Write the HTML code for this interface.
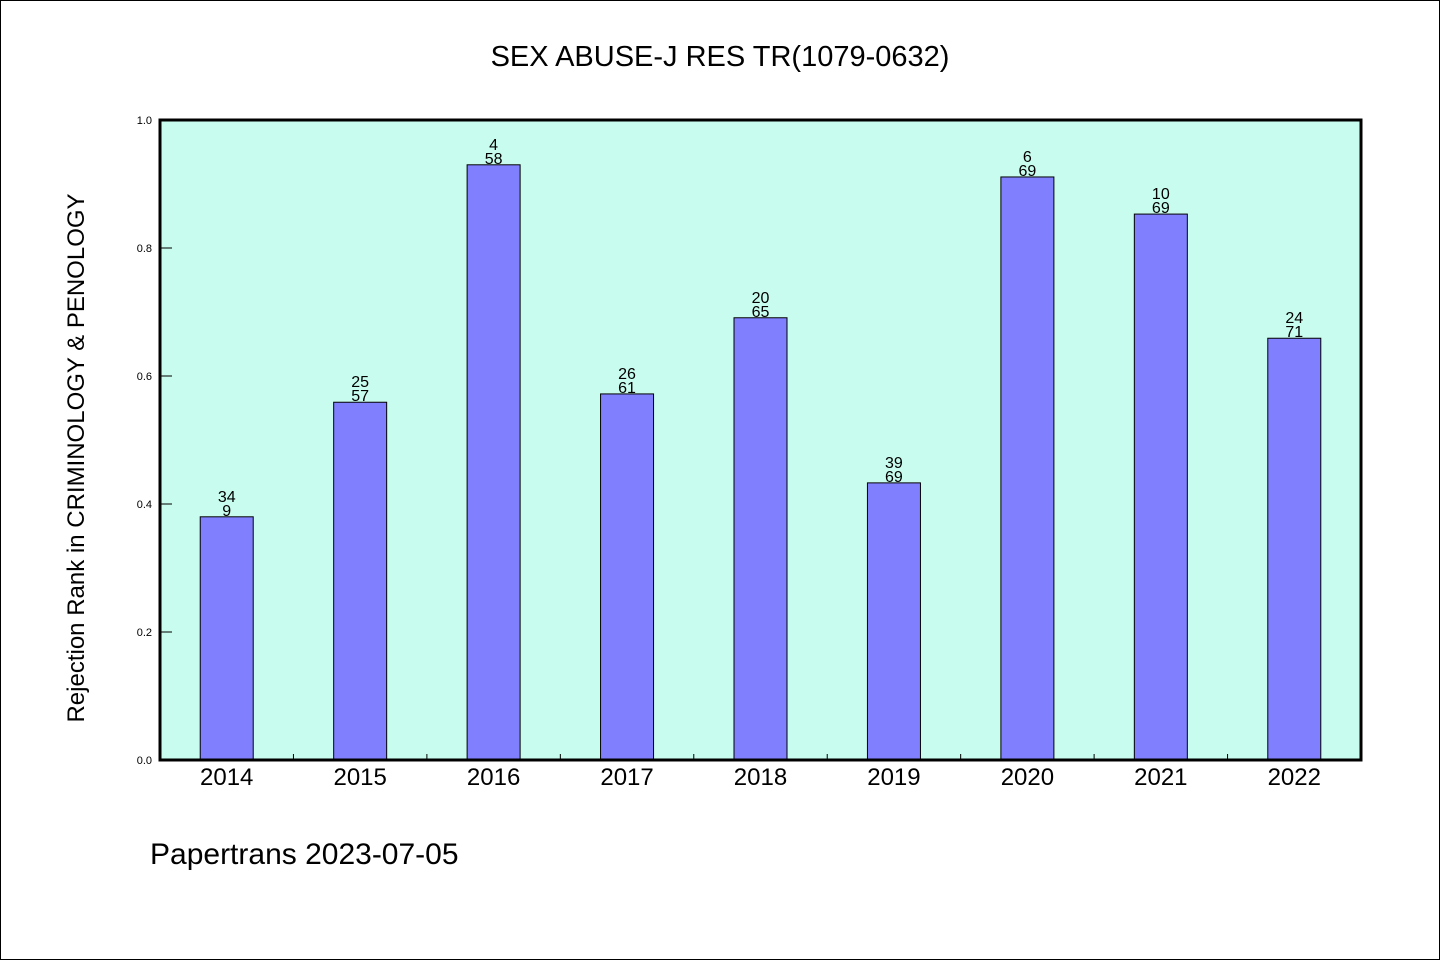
<!DOCTYPE html>
<html><head><meta charset="utf-8"><style>
html,body{margin:0;padding:0;background:#fff;}
svg{display:block;font-family:"WenQuanYi Zen Hei","Liberation Sans",sans-serif;}
</style></head><body>
<svg id="chart" width="1440" height="960" viewBox="0 0 1440 960" xmlns="http://www.w3.org/2000/svg">
<rect x="0.5" y="0.5" width="1439" height="959" fill="#fff" stroke="#000" stroke-width="1"/>
<text x="720" y="66" text-anchor="middle" font-size="29" fill="#000">SEX ABUSE-J RES TR(1079-0632)</text>
<rect x="160" y="120" width="1201" height="640" fill="#c8fcee"/>
<g id="bars"></g>
<g id="axes"></g>
<rect x="160" y="120" width="1201" height="640" fill="none" stroke="#000" stroke-width="3"/>
<text transform="translate(84,458) rotate(-90)" text-anchor="middle" font-size="24" fill="#000">Rejection Rank in CRIMINOLOGY &amp; PENOLOGY</text>
<text x="150" y="864" font-size="30" fill="#000">Papertrans 2023-07-05</text>
</svg>
<script>
const categories=["2014","2015","2016","2017","2018","2019","2020","2021","2022"];
const values=[0.380,0.559,0.930,0.572,0.691,0.433,0.911,0.853,0.659];
const topLabels=["34","25","4","26","20","39","6","10","24"];
const bottomLabels=["9","57","58","61","65","69","69","69","71"];
const yTicks=[0,0.2,0.4,0.6,0.8,1.0];
const X0=160,X1=1361,Y0=760,Y1=120;
const NS="http://www.w3.org/2000/svg";
const step=(X1-X0)/categories.length;
const xc=i=>X0+step*(i+0.5);
const ys=v=>Y0-(v-0)/(1-0)*(Y0-Y1);
function mk(t,a,p){const e=document.createElementNS(NS,t);for(const k in a)e.setAttribute(k,a[k]);p.appendChild(e);return e;}
const gb=document.getElementById('bars'),ga=document.getElementById('axes');
categories.forEach((c,i)=>{
  const w=53,y=ys(values[i]);
  const r=mk('rect',{x:xc(i)-w/2,y:y,width:w,height:Y0-y,fill:'#8080ff',stroke:'#000','stroke-width':1},gb);
  
  
  const t1=mk('text',{x:xc(i),y:y-15,'text-anchor':'middle','font-size':16,fill:'#000'},gb);
  t1.textContent=topLabels[i];
  
  
  const t2=mk('text',{x:xc(i),y:y-1,'text-anchor':'middle','font-size':16,fill:'#000'},gb);
  t2.textContent=bottomLabels[i];
  
  
  const xl=mk('text',{x:xc(i),y:785,'text-anchor':'middle','font-size':24,fill:'#000'},ga);
  xl.textContent=c;
  
  
  if(i>0){const tk=mk('line',{x1:X0+step*i,x2:X0+step*i,y1:Y0,y2:Y0-6,stroke:'#000','stroke-width':1},ga);
  
  }
});
yTicks.forEach(v=>{
  const y=ys(v);
  const tk=mk('line',{x1:X0,x2:X0+12,y1:y,y2:y,stroke:'#000','stroke-width':1},ga);
  
  
  const tl=mk('text',{x:152,y:y+4,'text-anchor':'end','font-size':11,fill:'#000'},ga);
  tl.textContent=v.toFixed(1);
  
  
});
</script>
</body></html>
